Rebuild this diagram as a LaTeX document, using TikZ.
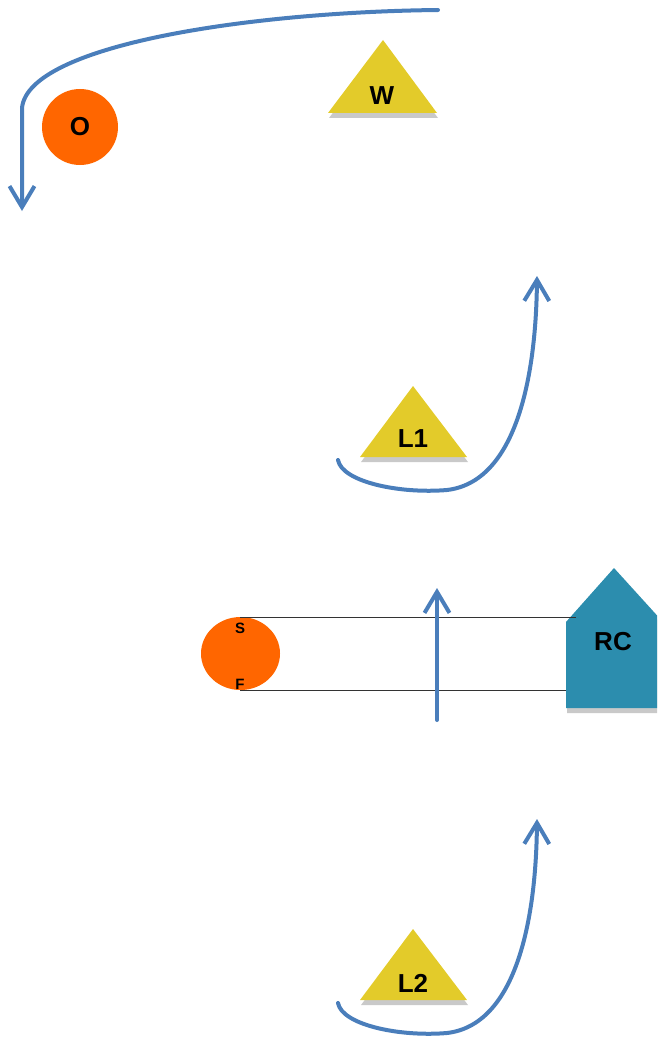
\documentclass[tikz,border=0pt]{standalone}
\usepackage{fontspec}
\setmainfont{Liberation Sans}
\usetikzlibrary{arrows.meta,shadows}
\definecolor{arrowblue}{HTML}{4A7EBB}
\definecolor{ballorange}{HTML}{FF6600}
\definecolor{coneyellow}{HTML}{E3CB2A}
\definecolor{rcteal}{HTML}{2C8DAE}
\tikzset{
  move/.style={draw=arrowblue, line width=4pt, line cap=round, line join=round,
    -{Straight Barb[length=21pt,width=25pt,line width=4pt]}},
  cone/.style={fill=coneyellow, drop shadow={shadow xshift=1pt, shadow yshift=-5pt, opacity=0.3, fill=black!70}},
  house/.style={fill=rcteal, drop shadow={shadow xshift=1pt, shadow yshift=-5pt, opacity=0.3, fill=black!70}},
  ball/.style={fill=ballorange},
  lbl/.style={font=\bfseries\fontsize{26}{26}\selectfont, text=black, inner sep=0pt},
  smalllbl/.style={font=\bfseries\fontsize{15}{15}\selectfont, text=black, inner sep=0pt},
  guide/.style={draw=black!80, line width=0.9pt}
}
\begin{document}
\begin{tikzpicture}[x=1pt,y=-1pt]
\useasboundingbox (0,0) rectangle (657,1038);
% top arrow
\draw[move] (438,10) .. controls (250,12) and (28,45) .. (22,108) -- (22,211);
% O
\fill[ball] (80,127) circle (38);
\node[lbl] (O) at (80,127) {O};
% W
\path[cone] (383,40) -- (437,113) -- (328,113) -- cycle;
\node[lbl] (W) at (382,96) {W};
% L1
\path[cone] (413,386) -- (467,457) -- (360,457) -- cycle;
\node[lbl] (L1) at (413,439) {L1};
\draw[move] (338,460) .. controls (342,482) and (400,494) .. (447,490) .. controls (515,482) and (536,380) .. (537,276);
% middle
\fill[ball] (240.5,653.5) ellipse [x radius=39.5, y radius=36.5];
\begin{scope}
\clip (0,0) rectangle (657,1038);
\path[house] (566,708) -- (566,622) -- (614,568) -- (663,622) -- (663,708) -- cycle;
\end{scope}
\node[lbl] (RC) at (613,642) {RC};
\coordinate (s1) at (240,617);
\coordinate (s2) at (576,617);
\coordinate (f1) at (240,690);
\coordinate (f2) at (566,690);
\draw[guide] (s1) -- (s2);
\draw[guide] (f1) -- (f2);
\node[smalllbl] (S) at (240,628) {S};
\node[smalllbl] (F) at (240,684) {F};
\draw[move] (437,720) -- (437,588);
% L2
\path[cone] (413,929) -- (467,1000) -- (360,1000) -- cycle;
\node[lbl] (L2) at (413,983) {L2};
\draw[move] (338,1003) .. controls (342,1025) and (400,1037) .. (447,1033) .. controls (515,1025) and (536,923) .. (537,819);
\end{tikzpicture}
\end{document}
